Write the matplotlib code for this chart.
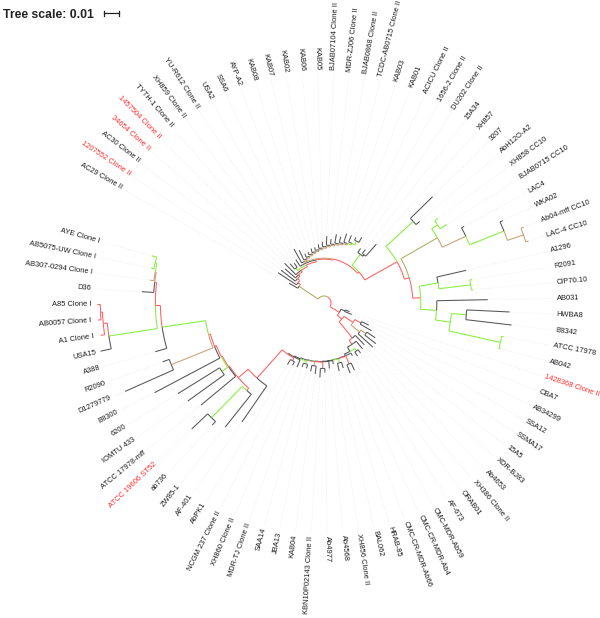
import numpy as np
import matplotlib
matplotlib.use("Agg")
import matplotlib.pyplot as plt
from matplotlib.lines import Line2D

# ---------------- data ----------------
LEAF_NAMES = [
    "AC29 Clone II", "1207552 Clone II", "AC30 Clone II", "34654 Clone II", "1457504 Clone II",
    "TYTH-1 Clone II", "XH859 Clone II", "YU-R612 Clone II", "USA2", "SSA6",
    "AYP-A2", "KAB08", "KAB07", "KAB02", "KAB06",
    "KAB05", "BJAB07104 Clone II", "MDR-ZJ06 Clone II", "BJAB0868 Clone II", "TCDC-AB0715 Clone II",
    "KAB03", "KAB01", "ACICU Clone II", "1656-2 Clone II", "DU202 Clone II",
    "15A34", "XH857", "3207", "AbH12O-A2", "XH858 CC10",
    "BJAB0715 CC10", "LAC4", "WKA02", "Ab04-mff CC10", "LAC-4 CC10",
    "A1296", "R2091", "CIP70.10", "AB031", "HWBA8",
    "B8342", "ATCC 17978", "AB042", "1428368 Clone II", "CBA7",
    "AB34299", "SSA12", "SSMA17", "15A5", "XDR-BJ83",
    "Ab4653", "XH386 Clone II", "ORAB01", "AF-673", "CMC-MDR-Ab59",
    "CMC-CR-MDR-Ab4", "CMC-CR-MDR-Ab66", "HRAB-85", "BAL062", "XH856 Clone II",
    "Ab4568", "Ab4977", "KBN10P02143 Clone II", "KAB04", "JBA13",
    "SAA14", "MDR-TJ Clone II", "XH860 Clone II", "NCGM 237 Clone II", "AbPK1",
    "AF-401", "ZW85-1", "ab736", "ATCC 19606 ST52", "ATCC 17978-mff",
    "IOMTU 433", "6200", "B8300", "D1279779", "R2090",
    "A388", "USA15", "A1 Clone I", "AB0057 Clone I", "A85 Clone I",
    "D36", "AB307-0294 Clone I", "AB5075-UW Clone I", "AYE Clone I",
]
RED_LEAVES = [2, 4, 5, 44, 74]

# branch lengths in units of 0.001 substitutions/site; letter = branch colour
COMB = ("(9:10.7k,(10:7.3k,(11:2.7k,(12:2.0k,(13:2.7k,(14:2.0k,(15:2.7k,(16:3.3k,"
        "(17:6.0k,(18:3.3k,(19:6.0k,(20:4.0k,(21:6.0k,(22:4.7k,(23:2.0k,24:4.0k):2.7g"
        "):1.3g):1.0t):1.0t):1.0t):1.0t):1.0t):1.0t):1.0t):1.0t):1.0t):1.0t):1.0t):1.0t)")
CLADE_CL = "(25:3.3k,(26:3.3k,27:10.7k):1.3k)"
R1 = "(28:20.7k,29:3.3k)"
R2 = "((30:2.7g,31:5.3g):4.7g,(32:2.0k,(33:2.0k,(34:2.0t,35:2.0t):11.3t):24.7g):17.3t)"
L1 = "(36:20.0k,(37:1.3g,38:1.3g):21.3g)"
L3 = "(39:34.0k,((40:28.7k,41:30.7k):10.0g,(42:1.3g,43:1.3g):35.3g):10.0g)"
R0 = "(" + R1 + ":24.7g,(" + R2 + ":28.0o,(" + L1 + ":12.7g," + L3 + ":10.7g):5.3r):3.3r)"
UPPER = ("(1:6.7k,(2:14.7k,(3:12.0k,(4:9.3k,(5:10.7k,((6:4.7k,7:3.3k):2.0g,(8:5.3k,("
         + COMB + ":0.7t,(" + CLADE_CL + ":9.3g," + R0 + ":24.7r):1.3r):0.7r):1.3r):1.3r"
         "):1.3r):1.3r):2.0r):2.0r)")

CLONE_I = "((82:7.3k,(83:2.7r,(84:2.0r,85:2.0r):1.3r):2.7r):32.7g,(86:8.0k,(87:2.7t,(88:2.0g,89:3.3g):1.3g):0.7t):1.3r)"
LEFT = ("(71:29.3k,((72:28.0k,(73:3.3k,74:14.7k):29.3g):2.0r,(75:30.0k,((76:30.0k,77:32.7k):4.7g,"
        "(78:49.3k,((79:35.3k,80:4.7k):30.0t,(81:8.0k," + CLONE_I + ":3.3r):29.3g):1.3r):1.3r):0.7r):0.7r):8.7r)")
LOWER = ("((44:3.3k,45:5.3k):2.7k,(((46:5.3k,47:8.7k):4.7r,((48:6.7k,49:9.3k):4.0t,50:13.3k):7.3t):7.3r,"
         "(51:8.7k,(52:6.7k,((53:2.7k,54:3.3k):2.0g,(55:2.0k,((56:5.3k,57:6.0k):5.7r,((58:4.0k,59:5.3k):2.7g,"
         "(60:2.3k,(61:4.7k,((62:2.7k,63:6.0k):4.3r,((64:5.3k,65:4.0k):2.7t,((66:2.7k,67:2.7k):2.0g,"
         "(68:5.3k,((69:2.7k,70:4.0k):2.0r," + LEFT + ":25.3r):0.7k):0.7k):0.7k):0.3k):0.3k):0.3k):0.3k"
         "):0.3k):0.3k):1.3k):3.3k):3.3r):14.0r):4.0r)")
TREE = "(" + UPPER + ":15.3o," + LOWER + ":7.3r)"
ROOT_DEPTH = 4.7
BL_UNIT = 1e-3
TREE_SCALE = 0.01

COLORS = {"r": "#ff6060", "g": "#86ee3c", "t": "#c8a072", "k": "#555555", "o": "#adae5c"}
LABEL_RED = "#ff2b2b"

# ---------------- layout ----------------
ANGLE_START = 150.5
ANGLE_STEP = 3.93
RMAX = 0.16
R_LABEL = 233.0 / 240.0 * RMAX


def parse(s):
    s = s.replace(" ", "")
    pos = 0

    def node():
        nonlocal pos
        if s[pos] == "(":
            pos += 1
            ch = [node()]
            while s[pos] == ",":
                pos += 1
                ch.append(node())
            assert s[pos] == ")", (pos, s[pos:pos + 20])
            pos += 1
            n = {"children": ch}
        else:
            j = pos
            while s[pos].isdigit():
                pos += 1
            n = {"leaf": int(s[j:pos])}
        if pos < len(s) and s[pos] == ":":
            pos += 1
            j = pos
            while s[pos] in "0123456789.":
                pos += 1
            n["len"] = float(s[j:pos])
            n["col"] = s[pos]
            pos += 1
        return n

    t = node()
    assert pos == len(s)
    return t


tree = parse(TREE)


def layout(n, depth):
    n["depth"] = depth
    if "leaf" in n:
        n["theta"] = np.deg2rad(ANGLE_START - ANGLE_STEP * (n["leaf"] - 1))
    else:
        for c in n["children"]:
            layout(c, depth + c["len"] * BL_UNIT)
        n["theta"] = np.mean([c["theta"] for c in n["children"]])


layout(tree, ROOT_DEPTH * BL_UNIT)

fig = plt.figure(figsize=(6.0, 6.18), dpi=100)
cx, cy, rpx = 324.0, 303.0, 240.0
ax = fig.add_axes([(cx - rpx) / 600, (618 - cy - rpx) / 618, 2 * rpx / 600, 2 * rpx / 618],
                  projection="polar")
ax.set_ylim(0, RMAX)
ax.set_axis_off()

LW = 0.75
leaves = []


def draw(n, parent=None):
    if parent is not None:
        col = COLORS[n["col"]]
        t0, t1 = parent["theta"], n["theta"]
        k = max(2, int(abs(t1 - t0) / np.deg2rad(0.5)) + 2)
        ax.plot(np.linspace(t0, t1, k), np.full(k, parent["depth"]), color=col, lw=LW,
                solid_capstyle="butt")
        ax.plot([t1, t1], [parent["depth"], n["depth"]], color=col, lw=LW, solid_capstyle="butt")
    if "leaf" in n:
        leaves.append(n)
    else:
        for c in n["children"]:
            draw(c, n)


draw(tree)

for n in leaves:
    th = n["theta"]
    ax.plot([th, th], [n["depth"] + 0.0012, R_LABEL - 0.002], color="#dedede", lw=0.45,
            linestyle=(0, (1, 2.5)))
    deg = np.rad2deg(th) % 360
    if 90 < deg < 270:
        rot, ha = deg + 180, "right"
    else:
        rot, ha = deg, "left"
    i = n["leaf"]
    ax.text(th, R_LABEL, LEAF_NAMES[i - 1], rotation=rot, ha=ha, va="center",
            rotation_mode="anchor", fontsize=5.45, family="Liberation Sans",
            color=LABEL_RED if i in RED_LEAVES else "#1a1a1a")

# tree scale
fig.text(3 / 600, 1 - 17.5 / 618, "Tree scale: 0.01", fontsize=8.8, fontweight="bold",
         family="Liberation Sans", color="#222222", va="baseline")
bar_w = TREE_SCALE / RMAX * (rpx / 600)
x0, yb = 104 / 600, 1 - 13 / 618
for xs, ys in [([x0, x0 + bar_w], [yb, yb]), ([x0, x0], [yb - 2.5 / 618, yb + 2.5 / 618]),
               ([x0 + bar_w, x0 + bar_w], [yb - 2.5 / 618, yb + 2.5 / 618])]:
    fig.add_artist(Line2D(xs, ys, color="#222222", lw=0.9, transform=fig.transFigure))

fig.savefig("out.png", dpi=100, facecolor="white")
